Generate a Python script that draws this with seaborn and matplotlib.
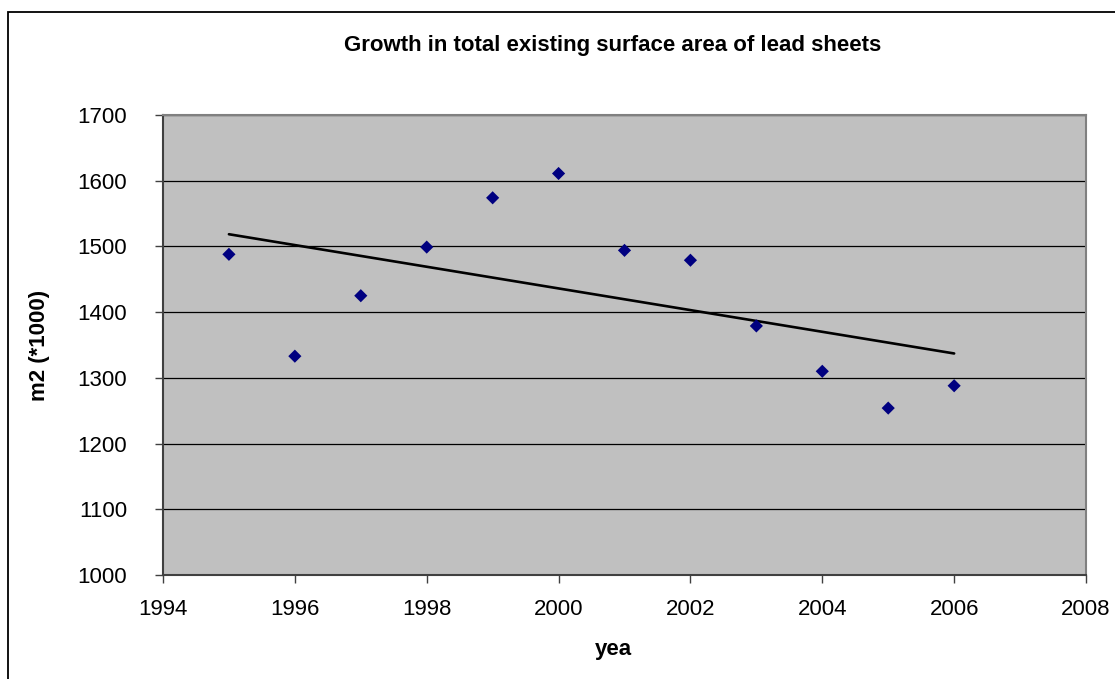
import matplotlib
matplotlib.use("Agg")
import matplotlib.pyplot as plt
import seaborn as sns
import numpy as np
import pandas as pd
from matplotlib.patches import Rectangle

years = [1995, 1996, 1997, 1998, 1999, 2000, 2001, 2002, 2003, 2004, 2005, 2006]
area = [1488, 1333, 1425, 1499, 1574, 1611, 1494, 1479, 1379, 1310, 1254, 1288]
x_ticks = [1994, 1996, 1998, 2000, 2002, 2004, 2006, 2008]
y_ticks = [1000, 1100, 1200, 1300, 1400, 1500, 1600, 1700]

title = "Growth in total existing surface area of lead sheets"
xlabel = "yea"
ylabel = "m2 (*1000)"

df = pd.DataFrame({"year": years, "area": area})

sns.set_theme(style="white")
plt.rcParams['font.family'] = ['Liberation Sans', 'DejaVu Sans']
plt.rcParams['text.color'] = 'black'
plt.rcParams['axes.labelcolor'] = 'black'
plt.rcParams['xtick.color'] = 'black'
plt.rcParams['ytick.color'] = 'black'

fig = plt.figure(figsize=(11.15, 6.79), dpi=100)
ax = fig.add_axes([163/1115, 1-575/679, (1086-163)/1115, (575-115)/679])
ax.set_facecolor("#C0C0C0")

sns.regplot(data=df, x="year", y="area", ax=ax, scatter=False, ci=None,
            truncate=True, color="black", line_kws={"lw": 1.9, "zorder": 3})
sns.scatterplot(data=df, x="year", y="area", ax=ax, marker="D", s=45,
                color="#000080", edgecolor="none", linewidth=0, zorder=4)

ax.set_xlim(1994, 2008)
ax.set_ylim(1000, 1700)
ax.set_xticks(x_ticks)
ax.set_yticks(y_ticks)
ax.set_xticklabels([str(t) for t in x_ticks], fontsize=16)
ax.set_yticklabels([str(t) for t in y_ticks], fontsize=16)
ax.tick_params(axis="both", direction="out", length=6, width=1, color="#404040",
               bottom=True, left=True, labelcolor="black")
ax.tick_params(axis="y", pad=20)
ax.tick_params(axis="x", pad=11)
ax.yaxis.grid(True, color="black", lw=0.9)
ax.xaxis.grid(False)
ax.set_axisbelow(True)

for side in ["left", "bottom"]:
    ax.spines[side].set_color("#404040")
    ax.spines[side].set_linewidth(1.5)
for side in ["top", "right"]:
    ax.spines[side].set_visible(True)
    ax.spines[side].set_color("#808080")
    ax.spines[side].set_linewidth(1.5)

ax.set_xlabel(xlabel, fontsize=16, fontweight="bold", color="black", va="center")
ax.set_ylabel(ylabel, fontsize=16, fontweight="bold", color="black", va="center")
ax.xaxis.set_label_coords((613-163)/923, (575-650)/460)
ax.yaxis.set_label_coords((40-163)/923, 0.5)
fig.text(613/1115, 1-46/679, title, ha="center", va="center",
         fontsize=16, fontweight="bold", color="black")

border = Rectangle((8/1115, -0.5), 2.0, 1.5 - 12/679, transform=fig.transFigure,
                   fill=False, edgecolor="black", lw=1.3, clip_on=False)
fig.add_artist(border)

fig.savefig("out.png", dpi=100)
